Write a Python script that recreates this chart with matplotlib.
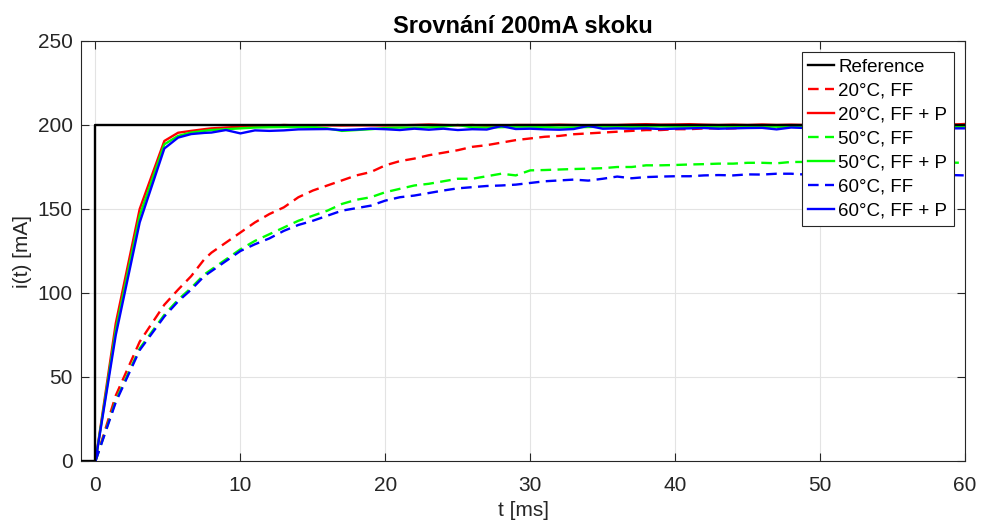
import numpy as np
import matplotlib
matplotlib.use("Agg")
import matplotlib.pyplot as plt

# ---- data ----
t = [0, 1.4, 3.05, 4.75, 5.7, 6.6, 7.5] + list(range(8, 61))

t_ref = [-1, 0, 0, 60]
i_ref = [0, 0, 200, 200]

ff_20 = [0, 39, 71, 93, 102, 110, 120, 124, 130, 136, 142, 147, 151, 157, 161, 164,
         167, 170, 172, 176, 178.5, 180, 182, 183.5, 185, 187, 188, 189.5, 191, 192,
         193, 193.5, 194.5, 195, 195.5, 196, 196.5, 197, 197, 197.5, 197.5, 198, 198,
         198, 198.5, 198.5, 199, 199, 199, 199, 199.5, 199.5, 199.5, 199.5, 199.5, 200,
         200, 200, 200, 200]
ffp_20 = [0, 82, 150, 190.5, 195.4, 196.5, 197.5, 198, 198.5, 199, 199.2, 199.5, 200,
          199.7, 199.8, 199.8, 199.7, 199.8, 199.8, 199.7, 199.8, 200, 200.3, 200, 199.8,
          200, 199.5, 199.7, 200, 200, 200, 200.2, 200, 199.8, 200, 200, 200.3, 200.5,
          200.2, 200.3, 200.5, 200.2, 200, 200.2, 200, 200.3, 200, 200.2, 200, 200, 199.8,
          200, 200.2, 200, 200, 200.2, 200, 200, 200.2, 200.6]
ff_50 = [0, 36, 67, 87, 96, 103, 111, 114, 120, 126, 131, 135, 139, 143, 146, 149,
         153, 155.5, 157, 160, 162, 164, 165, 166.5, 168, 168, 169.5, 171, 170, 173,
         173.2, 173.5, 173.8, 174, 174.3, 175, 175, 176, 176, 176.2, 176.5, 176.7, 177,
         177, 177.5, 177.5, 177.2, 178, 178, 177.8, 177.8, 177.6, 177.6, 177.6, 177.6,
         177.6, 177.6, 177.6, 177.6, 177.5]
ffp_50 = [0, 78, 146, 188.5, 193.5, 195.5, 196.5, 197, 197.5, 198, 198.5, 198.7, 198.8,
          198.8, 198.8, 198, 196.5, 197, 197.5, 198.2, 198.5, 198.4, 198.6, 199, 200,
          198.6, 198.5, 198.7, 199, 199, 198.8, 198.5, 198.6, 198.8, 199, 199, 198.8, 199,
          199.2, 199, 199, 198.8, 199, 199, 199.2, 199, 199, 199, 199.3, 199, 199, 199.2,
          199, 199, 199, 199, 199, 199.1, 198.6, 199]
ff_60 = [0, 35, 66, 86, 95, 102, 110, 113, 119, 125, 129, 132.5, 137, 140.5, 143, 146,
         149, 150.5, 152, 155, 157, 158, 159.5, 161, 162.3, 163, 163.7, 164, 164.5,
         165.5, 166.5, 167, 167.5, 166.9, 168, 169.3, 168.3, 169, 169.3, 169.5, 169.5,
         170, 170.2, 170, 170.6, 170.5, 171, 171, 170.5, 170.5, 170.3, 170.2, 170, 170,
         170, 170.2, 170, 170, 170.2, 170]
ffp_60 = [0, 75, 142, 186, 192.5, 194.6, 195.3, 195.5, 197, 195, 196.8, 196.5, 196.8,
          197.4, 197.5, 197.6, 197, 197.3, 197.8, 197.5, 197, 197.8, 197.2, 197.8, 197,
          197.5, 197.3, 199.4, 197.6, 197.8, 197.4, 197.2, 197.6, 199.5, 197.8, 198,
          197.8, 198, 197.6, 197.8, 198, 198.2, 197.8, 198, 198.2, 198.3, 197.4, 198.5,
          198.2, 198.3, 198.5, 198.3, 198.5, 198.5, 198.4, 198.5, 198.5, 198.6, 198, 198]

labels = ["Reference", "20°C, FF", "20°C, FF + P", "50°C, FF", "50°C, FF + P",
          "60°C, FF", "60°C, FF + P"]
title = "Srovnání 200mA skoku"
xlabel = "t [ms]"
ylabel = "i(t) [mA]"
xticks = [0, 10, 20, 30, 40, 50, 60]
yticks = [0, 50, 100, 150, 200, 250]

# ---- style ----
plt.rcParams['font.family'] = ['Liberation Sans', 'DejaVu Sans']
axcol = '#262626'

fig = plt.figure(figsize=(9.81, 5.25), dpi=100)
ax = fig.add_axes([81/981, 1 - 461/525, (965 - 81)/981, (461 - 41)/525])

lw = 1.7
dash = (0, (4.5, 2.7))
ax.plot(t_ref, i_ref, color='black', lw=lw, label=labels[0], zorder=5)
ax.plot(t, ff_20, color=(1, 0, 0), lw=lw, linestyle=dash, label=labels[1])
ax.plot(t, ffp_20, color=(1, 0, 0), lw=lw, label=labels[2])
ax.plot(t, ff_50, color=(0, 1, 0), lw=lw, linestyle=dash, label=labels[3])
ax.plot(t, ffp_50, color=(0, 1, 0), lw=lw, label=labels[4])
ax.plot(t, ff_60, color=(0, 0, 1), lw=lw, linestyle=dash, label=labels[5])
ax.plot(t, ffp_60, color=(0, 0, 1), lw=lw, label=labels[6])

ax.set_xlim(-1, 60)
ax.set_ylim(0, 250)
ax.set_xticks(xticks)
ax.set_yticks(yticks)
ax.grid(True, color='#e3e3e3', lw=0.8)
ax.set_axisbelow(True)
for s in ax.spines.values():
    s.set_color(axcol)
    s.set_linewidth(0.8)
ax.tick_params(direction='in', length=6, width=0.8, color=axcol, labelcolor=axcol,
               labelsize=15, top=True, right=True)
ax.tick_params(axis='x', pad=11)
ax.tick_params(axis='y', pad=6)

ax.set_title(title, fontsize=17, fontweight='bold', color='black', pad=6)
ax.set_xlabel(xlabel, fontsize=15, color=axcol, labelpad=4)
ax.set_ylabel(ylabel, fontsize=15, color=axcol, labelpad=4)

leg = ax.legend(loc='upper right', fontsize=13.5, frameon=True, fancybox=False,
                framealpha=1, edgecolor=axcol, handlelength=1.4, handletextpad=0.2,
                labelspacing=0.36, borderpad=0.35, borderaxespad=0.6)
leg.get_frame().set_linewidth(0.8)
for txt in leg.get_texts():
    txt.set_color('black')

fig.savefig("out.png", dpi=100)
